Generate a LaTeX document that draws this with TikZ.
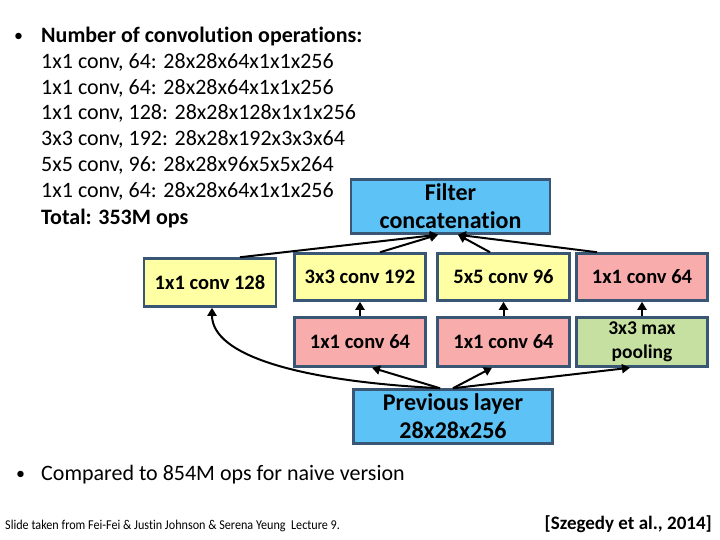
\documentclass[tikz,border=0pt]{standalone}
\usepackage{fontspec}
\setmainfont{Carlito}[Ligatures=NoCommon]
\usetikzlibrary{arrows.meta,calc}
\definecolor{bluefill}{HTML}{5DC2F5}
\definecolor{boxborder}{HTML}{3A5675}
\definecolor{yellowfill}{HTML}{FFFFA3}
\definecolor{pinkfill}{HTML}{F8ACAC}
\definecolor{greenfill}{HTML}{C6E0A2}
\tikzset{
  box/.style={draw=boxborder, line width=2.5pt, inner sep=0pt, align=center,
    font=\fontsize{20.5}{23}\selectfont\bfseries},
  bigbox/.style={box, fill=bluefill, minimum width=199pt, minimum height=54pt,
    font=\fontsize{24}{28}\selectfont\bfseries},
  ybox/.style={box, fill=yellowfill},
  pbox/.style={box, fill=pinkfill},
  gbox/.style={box, fill=greenfill, font=\fontsize{19.5}{24}\selectfont\bfseries},
  conn/.style={line width=2pt, -{Triangle[length=8pt,width=9pt]}},
  listtext/.style={anchor=base west, inner sep=0pt, font=\fontsize{22}{24}\selectfont},
}
\begin{document}
\begin{tikzpicture}[x=1pt,y=-1pt]
\path[fill=white] (0,0) rectangle (720,540);
\useasboundingbox (0,0) rectangle (720,540);

% bullet list
\node[listtext, font=\fontsize{18}{20}\selectfont] (b1) at (14,42) {•};
\node[listtext] (l1) at (41,43) {\bfseries Number of convolution operations:};
\node[listtext] (l2) at (41,69) {1x1 conv, 64: 28x28x64x1x1x256};
\node[listtext] (l3) at (41,95) {1x1 conv, 64: 28x28x64x1x1x256};
\node[listtext] (l4) at (41,120) {1x1 conv, 128: 28x28x128x1x1x256};
\node[listtext] (l5) at (41,146) {3x3 conv, 192: 28x28x192x3x3x64};
\node[listtext] (l6) at (41,172) {5x5 conv, 96: 28x28x96x5x5x264};
\node[listtext] (l7) at (41,198) {1x1 conv, 64: 28x28x64x1x1x256};
\node[listtext] (l8) at (41,225) {\bfseries Total: 353M ops};

\node[listtext, font=\fontsize{18}{20}\selectfont] (b2) at (16,479) {•};
\node[listtext] (c1) at (41,480) {Compared to 854M ops for naive version};

\node[anchor=base west, inner sep=0pt, font=\fontsize{13.5}{15}\selectfont] (foot) at (5,529)
  {\scalebox{0.9}[1]{Slide taken from Fei-Fei \& Justin Johnson \& Serena Yeung\ \ Lecture 9.}};
\node[anchor=base east, inner sep=0pt, font=\fontsize{19}{20}\selectfont\bfseries] (cite) at (712,529)
  {[Szegedy et al., 2014]};

% boxes
\node[bigbox] (filter) at (450.5,206.5) {Filter\\concatenation};
\node[ybox, minimum width=132pt, minimum height=48pt] (c128) at (210,282.5) {1x1 conv 128};
\node[ybox, minimum width=131pt, minimum height=47pt] (c33) at (360,277) {3x3 conv 192};
\node[ybox, minimum width=132pt, minimum height=47pt] (c55) at (503.5,277) {5x5 conv 96};
\node[pbox, minimum width=131pt, minimum height=47pt] (p64) at (642,277) {1x1 conv 64};
\node[pbox, minimum width=131pt, minimum height=49pt] (p64a) at (360,342) {1x1 conv 64};
\node[pbox, minimum width=132pt, minimum height=49pt] (p64b) at (503.5,342) {1x1 conv 64};
\node[gbox, minimum width=131pt, minimum height=49pt] (pool) at (642,342) {3x3 max\\pooling};
\node[bigbox] (prev) at (453,416.5) {Previous layer\\28x28x256};

% connectors to filter concatenation
\draw[conn] ([xshift=30pt]c128.north) -- ([xshift=-12.5pt]filter.south);
\draw[conn] ([xshift=20pt]c33.north) -- ([xshift=-12.5pt]filter.south);
\draw[conn] ([xshift=-13.5pt]c55.north) -- ([xshift=7.5pt]filter.south);
\draw[conn] ([xshift=-45pt]p64.north) -- ([xshift=7.5pt]filter.south);

% vertical connectors
\draw[conn] (p64a) -- (c33);
\draw[conn] (p64b) -- (c55);
\draw[conn] (pool) -- (p64);

% connectors from previous layer
\draw[conn] ([xshift=-13pt]prev.north) .. controls +(-140,-7) and +(0,48) .. ([xshift=2pt]c128.south);
\draw[conn] ([xshift=-13pt]prev.north) -- ([xshift=12pt]p64a.south);
\draw[conn] (prev.north) -- ([xshift=-11.5pt]p64b.south);
\draw[conn] (prev.north) -- ([xshift=-12pt]pool.south);
\end{tikzpicture}
\end{document}
